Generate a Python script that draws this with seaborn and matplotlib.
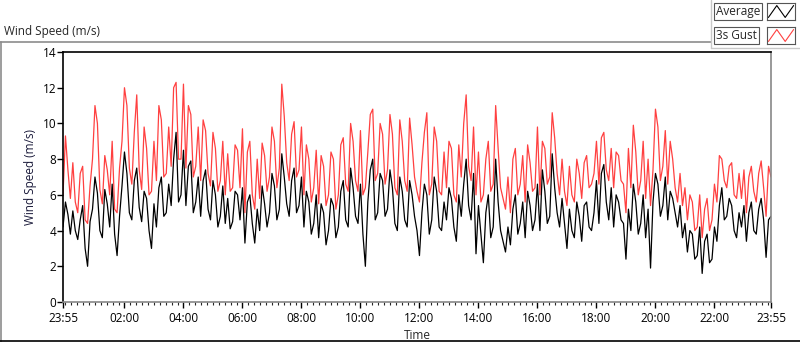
import numpy as np
import pandas as pd
import seaborn as sns
import matplotlib.pyplot as plt
import matplotlib.dates as mdates
from matplotlib.lines import Line2D

# 5-minute samples from 23:55 to 23:55 next day (one row of 12 per hour)
avg_speed = [
    4.2, 5.6, 4.9, 3.8, 5.1, 4.0, 3.5, 4.6, 5.4, 3.0, 2.0, 4.5,
    5.2, 7.0, 6.1, 4.0, 3.6, 6.3, 5.5, 4.2, 6.6, 3.8, 2.6, 4.8,
    6.5, 8.4, 7.2, 5.0, 4.6, 6.8, 7.5, 5.3, 4.5, 6.2, 5.8, 4.0,
    3.0, 5.5, 4.2, 6.4, 7.0, 4.8, 5.0, 6.6, 5.4, 8.0, 9.5, 5.6,
    6.0, 8.5, 5.4, 7.6, 7.9, 5.0, 5.6, 7.0, 4.8, 6.8, 7.4, 5.2,
    4.6, 6.8, 6.0, 4.2, 4.8, 6.5, 4.4, 5.8, 4.1, 4.5, 6.2, 6.0,
    4.6, 6.4, 3.3, 5.6, 6.0, 4.4, 3.3, 5.2, 4.0, 6.5, 5.5, 4.2,
    5.0, 7.2, 6.5, 4.6, 5.2, 8.3, 7.0, 5.5, 4.8, 6.8, 7.5, 5.0,
    5.4, 7.0, 4.2, 6.2, 5.6, 3.8, 4.4, 6.0, 3.6, 5.5, 5.0, 3.2,
    4.0, 5.8, 5.4, 3.6, 4.2, 6.2, 6.8, 4.6, 4.2, 7.5, 6.4, 4.8,
    4.4, 6.6, 3.8, 2.0, 5.6, 7.4, 8.0, 4.6, 5.0, 7.2, 6.8, 4.8,
    5.2, 7.4, 6.4, 4.4, 4.0, 7.0, 6.2, 4.6, 4.2, 6.8, 6.0, 4.8,
    4.0, 2.6, 5.0, 6.6, 6.0, 3.8, 4.6, 7.0, 6.2, 4.2, 4.0, 5.6,
    4.6, 6.4, 5.8, 4.2, 3.4, 6.0, 4.8, 6.6, 8.0, 5.4, 4.6, 7.2,
    2.7, 5.4, 3.8, 2.2, 5.0, 6.0, 3.6, 4.2, 8.0, 5.6, 4.0, 3.4,
    2.8, 4.2, 3.2, 5.2, 6.0, 3.8, 4.4, 5.6, 3.6, 6.2, 5.4, 4.0,
    4.6, 6.6, 4.0, 7.4, 6.2, 4.4, 4.8, 8.3, 6.4, 5.0, 4.2, 5.8,
    4.4, 3.0, 5.2, 4.0, 3.6, 5.6, 4.8, 3.4, 5.4, 5.6, 4.2, 4.0,
    5.0, 6.8, 4.4, 7.2, 7.7, 5.6, 4.6, 6.4, 4.2, 6.0, 5.6, 4.6,
    4.4, 2.4, 5.2, 4.0, 6.6, 5.6, 3.8, 4.4, 6.0, 3.6, 5.2, 1.9,
    5.6, 7.2, 6.6, 4.8, 5.4, 7.0, 4.6, 6.2, 5.8, 5.0, 4.2, 5.4,
    3.6, 4.4, 2.8, 4.0, 3.8, 2.4, 2.6, 4.2, 1.6, 3.4, 3.8, 2.2,
    2.4, 4.2, 3.4, 5.4, 6.4, 4.6, 4.8, 5.8, 5.4, 4.0, 3.6, 5.0,
    4.2, 5.4, 3.4, 5.0, 5.6, 4.0, 3.8, 5.2, 5.8, 4.6, 2.5, 4.6,
    4.8,
]
gust_speed = [
    6.0, 9.3, 7.4, 5.8, 7.8, 5.6, 5.0, 7.2, 7.6, 4.6, 4.4, 6.5,
    8.0, 11.0, 10.0, 6.3, 5.5, 8.2, 7.4, 6.0, 9.0, 5.2, 5.0, 7.5,
    9.0, 12.0, 11.0, 7.5, 6.6, 9.5, 11.6, 7.4, 6.3, 9.8, 8.6, 6.0,
    6.2, 9.0, 6.8, 11.0, 10.2, 7.0, 7.2, 9.8, 7.6, 12.0, 12.3, 8.0,
    8.0, 12.2, 7.5, 11.0, 10.5, 7.0, 7.6, 9.8, 6.8, 10.2, 9.6, 7.2,
    6.5, 9.5, 8.6, 6.2, 6.8, 9.0, 6.0, 8.3, 6.2, 6.4, 8.8, 8.5,
    6.4, 9.7, 5.0, 8.4, 9.0, 6.0, 5.2, 8.0, 5.8, 8.9, 8.2, 6.2,
    7.0, 9.8, 9.0, 6.4, 7.5, 12.2, 10.4, 7.8, 6.8, 9.4, 10.1, 7.0,
    7.4, 9.8, 6.0, 8.8, 8.0, 5.6, 6.4, 8.5, 5.5, 8.2, 7.6, 5.4,
    6.0, 8.4, 8.0, 5.2, 6.0, 8.8, 9.2, 6.6, 6.2, 10.0, 9.0, 6.8,
    6.2, 9.6, 6.0, 6.4, 8.4, 10.5, 10.8, 6.8, 7.2, 10.0, 9.4, 6.6,
    7.4, 10.5, 9.4, 6.4, 6.0, 10.2, 9.0, 6.8, 6.2, 10.3, 8.8, 7.0,
    6.2, 5.6, 7.8, 9.5, 10.6, 6.0, 6.6, 9.8, 9.0, 6.2, 6.0, 8.4,
    6.4, 9.0, 8.6, 6.0, 5.6, 8.8, 7.0, 10.0, 11.6, 7.6, 6.8, 9.8,
    6.0, 8.4, 5.6, 6.0, 8.0, 9.0, 6.2, 6.6, 11.0, 8.6, 6.4, 5.8,
    5.2, 7.0, 5.0, 8.0, 8.6, 6.0, 6.6, 8.2, 5.6, 8.8, 7.8, 6.2,
    6.4, 9.8, 6.0, 9.0, 8.6, 6.6, 7.0, 10.6, 9.2, 7.2, 6.0, 8.0,
    6.2, 5.4, 7.6, 6.0, 5.6, 8.0, 7.2, 5.8, 7.8, 8.2, 6.4, 6.6,
    7.2, 9.0, 6.6, 9.2, 9.5, 7.4, 6.8, 8.6, 6.4, 8.4, 8.2, 6.8,
    6.6, 5.0, 8.6, 6.4, 9.9, 8.4, 6.0, 6.8, 9.0, 5.8, 8.0, 5.4,
    7.4, 10.8, 9.8, 6.8, 7.6, 9.6, 6.6, 9.0, 8.0, 6.4, 5.6, 7.2,
    5.4, 6.4, 4.6, 6.0, 5.6, 4.0, 4.2, 6.0, 3.6, 5.2, 5.8, 4.0,
    4.6, 6.6, 5.6, 8.2, 8.0, 6.8, 6.4, 7.6, 7.8, 6.0, 5.8, 7.2,
    5.8, 7.4, 5.0, 7.0, 7.6, 6.2, 5.6, 7.2, 7.9, 6.4, 4.8, 7.6,
    7.0,
]
tick_labels = ['23:55', '02:00', '04:00', '06:00', '08:00', '10:00', '12:00',
               '14:00', '16:00', '18:00', '20:00', '22:00', '23:55']

times = pd.date_range('2024-05-01 23:55', periods=len(avg_speed), freq='5min')
df = pd.DataFrame({'Time': times, 'Average': avg_speed, '3s Gust': gust_speed})

sns.set_style('white')
plt.rcParams['font.family'] = ['Open Sans', 'DejaVu Sans']

fig = plt.figure(figsize=(8, 3.42), dpi=100)
ax = fig.add_axes([63 / 800, 40 / 342, 708 / 800, 250 / 342])

sns.lineplot(data=df, x='Time', y='3s Gust', color='#ff4040', lw=0.9, ax=ax)
sns.lineplot(data=df, x='Time', y='Average', color='black', lw=0.9, ax=ax)

ax.set_ylim(0, 14)
ax.set_yticks(range(0, 15, 2))
ax.set_xlim(times[0], times[-1])
major = [times[0]] + list(pd.date_range('2024-05-02 02:00', periods=11, freq='2h')) + [times[-1]]
ax.set_xticks(major)
ax.set_xticklabels(tick_labels)
ax.xaxis.set_minor_locator(mdates.MinuteLocator(byminute=[0, 12, 24, 36, 48]))

ax.tick_params(axis='both', which='major', direction='out', length=4, width=1,
               labelsize=8.5, colors='black')
ax.tick_params(axis='y', left=True, pad=1)
ax.tick_params(axis='x', which='major', length=4, bottom=True, pad=3)
ax.tick_params(axis='x', which='minor', direction='out', length=2.5, width=0.8,
               bottom=True)

ax.set_xlabel('Time', fontsize=8.5, labelpad=3)
ax.set_ylabel('Wind Speed (m/s)', fontsize=8.5, labelpad=4, color='#1a1a3a')

for side in ['left', 'top']:
    ax.spines[side].set_color('black')
    ax.spines[side].set_linewidth(1.2)
for side in ['right', 'bottom']:
    ax.spines[side].set_color('#888888')
    ax.spines[side].set_linewidth(1.2)

# outer LabVIEW-style panel
grey = '#8c8c8c'
fig.add_artist(Line2D([0, 711 / 800], [1 - 42 / 342] * 2, color=grey, lw=1.2))
fig.add_artist(Line2D([1 / 800] * 2, [0, 1 - 42 / 342], color=grey, lw=1.2))
fig.add_artist(Line2D([0, 1], [1 / 342] * 2, color='black', lw=1.2))
fig.add_artist(Line2D([711 / 800] * 2, [1 - 48 / 342, 1], color='#c8c8c8', lw=1))
fig.add_artist(Line2D([711 / 800, 1], [1 - 48 / 342] * 2, color='#c8c8c8', lw=1))

fig.text(4 / 800, 1 - 32 / 342, 'Wind Speed (m/s)', fontsize=8.5, va='center', ha='left')

# legend boxes
for i, (name, col) in enumerate([('Average', 'black'), ('3s Gust', '#ff4040')]):
    y0 = 3 + i * 24
    fig.text(716 / 800, 1 - (y0 + 8.5) / 342, name, fontsize=8.5, va='center', ha='left',
             bbox=dict(boxstyle='square,pad=0.15', fc='white', ec='#555555', lw=0.8))
    lax = fig.add_axes([767 / 800, 1 - (y0 + 17) / 342, 28 / 800, 17 / 342])
    lax.plot([0.05, 0.35, 0.65, 0.95], [0.15, 0.85, 0.15, 0.85], color=col, lw=0.8)
    lax.set_xlim(0, 1)
    lax.set_ylim(0, 1)
    lax.set_xticks([])
    lax.set_yticks([])
    for s in lax.spines.values():
        s.set_color('#555555')
        s.set_linewidth(0.8)

fig.savefig('out.png', dpi=100)
